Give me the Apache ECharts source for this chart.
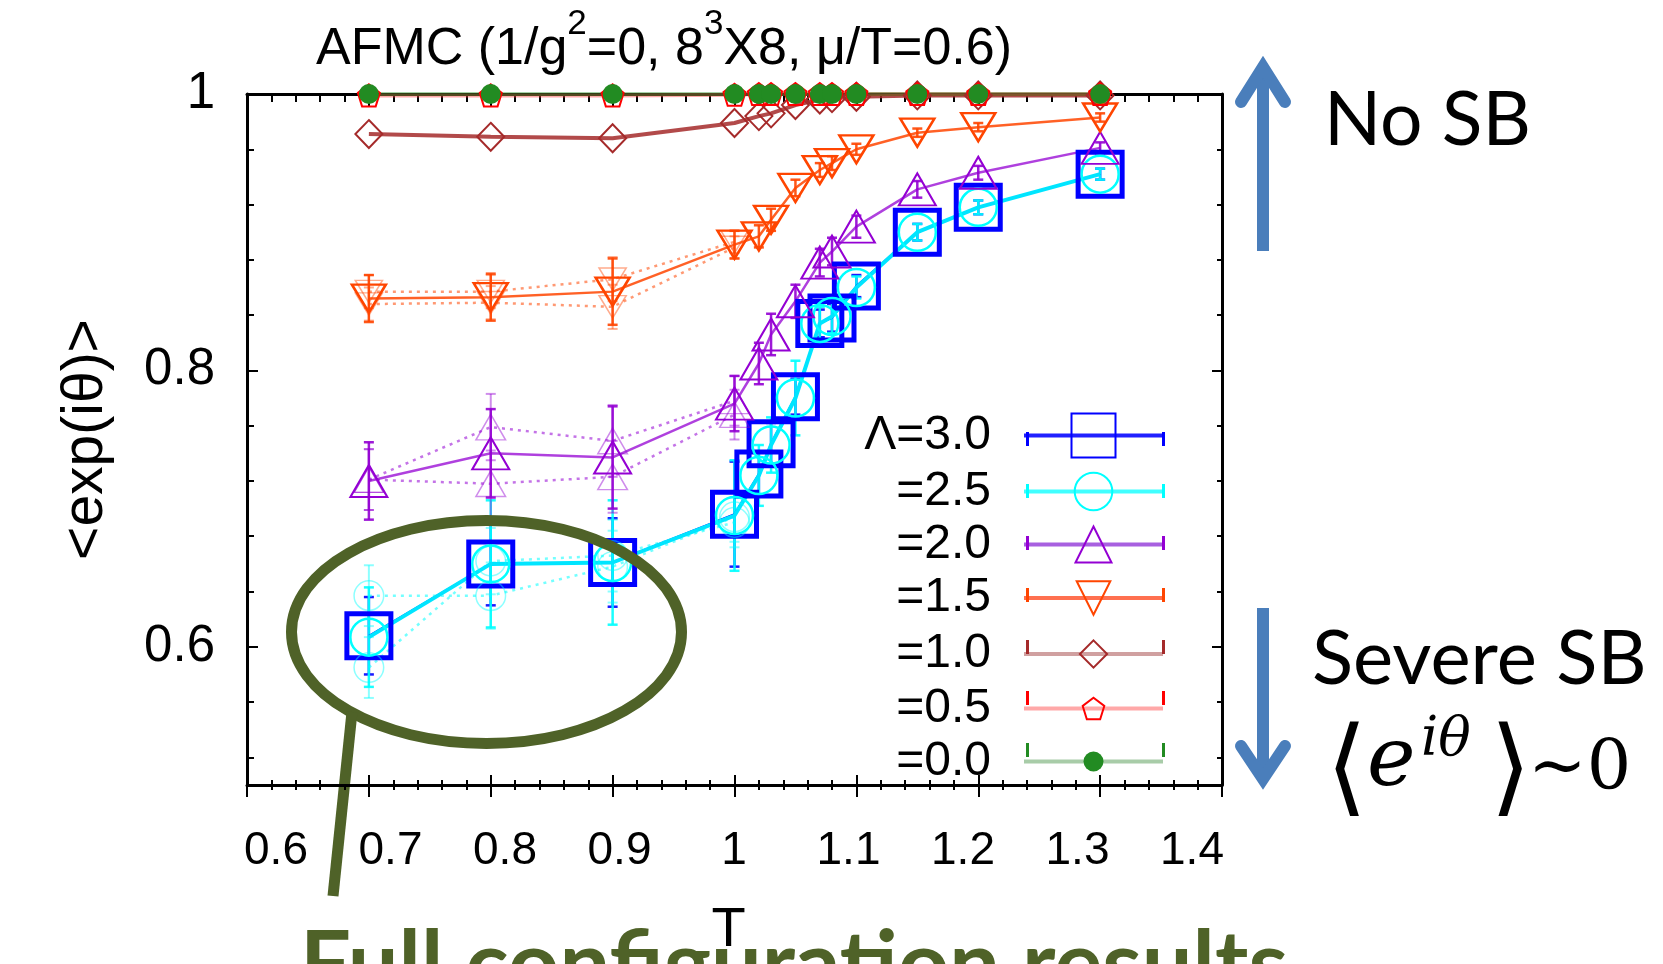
<!DOCTYPE html>
<html><head><meta charset="utf-8">
<script src="https://cdn.jsdelivr.net/npm/echarts@6/dist/echarts.min.js"></script>
<style>html,body{margin:0;padding:0;background:#fff}#c{width:1663px;height:964px}</style>
</head><body><div id="c"></div>
<script>
// ---------------- data ----------------
const temperatures = [0.7, 0.8, 0.9, 1.0, 1.02, 1.03, 1.05, 1.07, 1.08, 1.1, 1.15, 1.2, 1.3];
const seriesNames = ['Λ=3.0', '=2.5', '=2.0', '=1.5', '=1.0', '=0.5', '=0.0'];
const phaseL30 = [0.608, 0.660, 0.661, 0.696, 0.725, 0.747, 0.781, 0.834, 0.838, 0.861, 0.900, 0.918, 0.942];
const errorL30 = [0.028, 0.030, 0.032, 0.038, 0.016, 0.015, 0.013, 0.010, 0.010, 0.008, 0.006, 0.005, 0.004];
const phaseL25 = [0.607, 0.660, 0.661, 0.695, 0.724, 0.746, 0.780, 0.834, 0.839, 0.860, 0.900, 0.918, 0.942];
const errorL25 = [0.036, 0.046, 0.045, 0.040, 0.022, 0.020, 0.027, 0.012, 0.012, 0.008, 0.006, 0.005, 0.004];
const phaseL20 = [0.720, 0.740, 0.737, 0.776, 0.805, 0.826, 0.850, 0.878, 0.886, 0.904, 0.931, 0.943, 0.961];
const errorL20 = [0.028, 0.032, 0.037, 0.020, 0.015, 0.015, 0.012, 0.010, 0.010, 0.008, 0.006, 0.005, 0.004];
const phaseL15 = [0.852, 0.853, 0.857, 0.891, 0.897, 0.909, 0.932, 0.945, 0.950, 0.960, 0.972, 0.976, 0.983];
const errorL15 = [0.017, 0.017, 0.024, 0.010, 0.008, 0.008, 0.006, 0.005, 0.005, 0.004, 0.003, 0.003, 0.003];
const phaseL10 = [0.971, 0.969, 0.968, 0.979, 0.984, 0.986, 0.992, 0.996, 0.997, 0.998, 0.999, 0.999, 0.999];
const phaseL05 = [0.999, 0.999, 0.999, 0.9995, 1, 1, 1, 1, 1, 1, 1, 1, 1];
const phaseL00 = [1, 1, 1, 1, 1, 1, 1, 1, 1, 1, 1, 1, 1];

// alternative (dotted) runs at low temperature
const lowTemperatures = [0.7, 0.8, 0.9, 1.0];
const altL25a = [0.637, 0.637, 0.658, 0.694];
const altL25b = [0.585, 0.662, 0.666, 0.690];
const altL20a = [0.721, 0.759, 0.749, 0.778];
const altL20b = [0.721, 0.718, 0.723, 0.768];
const altL15a = [0.857, 0.857, 0.866, 0.893];
const altL15b = [0.848, 0.849, 0.846, 0.889];
const altError = [0.022, 0.024, 0.026, 0.018];
const altErrorL15 = [0.012, 0.012, 0.016, 0.008];

const xTickLabels = ['0.6', '0.7', '0.8', '0.9', '1', '1.1', '1.2', '1.3', '1.4'];
const yTickLabels = ['0.6', '0.8', '1'];

// ---------------- styles ----------------
const SANS = '"Liberation Sans", Arial, sans-serif';
const HOLLOW = 'rgba(255,255,255,0)';
const DOWN_TRI = 'path://M0,0L10,0L5,8.66Z';
const PENTAGON = 'path://M5,0L10,3.63L8.09,9.51L1.91,9.51L0,3.63Z';

const mainValues = [phaseL30, phaseL25, phaseL20, phaseL15, phaseL10, phaseL05, phaseL00];
const mainErrors = [errorL30, errorL25, errorL20, errorL15, null, null, null];
const styles = [
  {color: '#0000ff', line: '#0000ff', symbol: 'rect', size: 44, bw: 5, fill: HOLLOW, lw: 2, lo: 1, legendH: 55, legendLine: '#2020ff'},
  {color: '#00ffff', line: '#00e5ff', symbol: 'circle', size: 37, bw: 2.5, fill: HOLLOW, lw: 4, lo: 1, legendH: 47, legendLine: '#40ffff'},
  {color: '#9400d3', line: '#9400d3', symbol: 'triangle', size: [37, 32], bw: 2, fill: HOLLOW, lw: 2.5, lo: 0.75, legendH: 45, legendLine: '#a860e0'},
  {color: '#ff4500', line: '#ff4500', symbol: DOWN_TRI, size: [34, 28], bw: 2.5, fill: HOLLOW, lw: 2.5, lo: 0.85, legendH: 42, legendLine: '#ff7050'},
  {color: '#a52a2a', line: '#a52a2a', symbol: 'diamond', size: [27, 28], bw: 2, fill: HOLLOW, lw: 4, lo: 0.85, legendH: 34, legendLine: '#d0a0a0'},
  {color: '#ff0000', line: '#ff4040', symbol: PENTAGON, size: 22, bw: 2, fill: HOLLOW, lw: 4, lo: 0.45, legendH: 27, legendLine: '#ffa8a8'},
  {color: '#228b22', line: '#228b22', symbol: 'circle', size: 20, bw: 0, fill: '#228b22', lw: 4, lo: 0.4, legendH: 25, legendLine: '#a8cca8'}
];
const legendRowCenters = [439, 491, 543, 595, 647, 698, 750];
const legendIconLeft = 1026, legendIconRight = 1165;

function pairs(xs, ys) { return xs.map((x, i) => [x, ys[i]]); }
function triples(xs, ys, es) { return xs.map((x, i) => [x, ys[i], es[i]]); }

function errorSeries(id, xs, ys, es, color, width, opacity) {
  return {
    type: 'custom', name: id, coordinateSystem: 'cartesian2d', silent: true, clip: false,
    data: triples(xs, ys, es), encode: {x: 0, y: 1},
    renderItem: function (params, api) {
      const x = api.value(0), y = api.value(1), e = api.value(2);
      const a = api.coord([x, y + e]), b = api.coord([x, y - e]);
      const c = 5;
      const st = {stroke: color, lineWidth: width, opacity: opacity};
      return {type: 'group', children: [
        {type: 'line', shape: {x1: a[0], y1: a[1], x2: b[0], y2: b[1]}, style: st},
        {type: 'line', shape: {x1: a[0] - c, y1: a[1], x2: a[0] + c, y2: a[1]}, style: st},
        {type: 'line', shape: {x1: b[0] - c, y1: b[1], x2: b[0] + c, y2: b[1]}, style: st}
      ]};
    }
  };
}

function altSeries(id, ys, st, errs) {
  const out = [];
  out.push(errorSeries(id + 'e', lowTemperatures, ys, errs, st.color, 2, 0.45));
  out.push({
    type: 'line', name: id, data: pairs(lowTemperatures, ys), clip: false, silent: true,
    symbol: st.symbol, symbolSize: Array.isArray(st.size) ? st.size.map(v => v * 0.8) : st.size * 0.8,
    itemStyle: {color: st.fill, borderColor: st.color, borderWidth: 1.5, opacity: 0.45},
    lineStyle: {color: st.color, width: 2.5, type: [3, 5], opacity: 0.55},
    emphasis: {disabled: true}
  });
  return out;
}

const series = [];
const alts = {1: [altL25a, altL25b], 2: [altL20a, altL20b], 3: [altL15a, altL15b]};
seriesNames.forEach((name, k) => {
  const st = styles[k];
  if (alts[k]) {
    alts[k].forEach((ys, j) => {
      series.push(...altSeries('alt' + k + '_' + j, ys, st, k === 3 ? altErrorL15 : altError));
    });
  }
  if (mainErrors[k]) series.push(errorSeries('err' + k, temperatures, mainValues[k], mainErrors[k], st.color, 2.5, 0.9));
  series.push({
    type: 'line', name: name, data: pairs(temperatures, mainValues[k]), clip: false,
    symbol: st.symbol, symbolSize: st.size, symbolKeepAspect: false,
    itemStyle: {color: st.fill, borderColor: st.color, borderWidth: st.bw},
    lineStyle: {color: st.line, width: st.lw, opacity: st.lo},
    emphasis: {disabled: true}
  });
});

const legends = seriesNames.map((name, k) => ({
  data: [name], orient: 'vertical', align: 'right', selectedMode: false,
  right: 1663 - legendIconRight, top: legendRowCenters[k] - styles[k].legendH / 2,
  itemWidth: legendIconRight - legendIconLeft, itemHeight: styles[k].legendH, itemGap: 0, padding: 0,
  lineStyle: {color: styles[k].legendLine, width: 4, opacity: 1},
  textStyle: {fontFamily: SANS, fontSize: 48, color: '#000', lineHeight: 20, padding: [0, 28, 0, 0]}
}));

// error-bar caps at the ends of each legend sample line
const legendCaps = [];
legendRowCenters.forEach((cy, k) => {
  [legendIconLeft + 1.5, legendIconRight - 1.5].forEach(x => {
    legendCaps.push({type: 'line', z: 20, shape: {x1: x, y1: cy - 7, x2: x, y2: cy + 7},
      style: {stroke: styles[k].color, lineWidth: 3}});
  });
});

const xRich = {};
xTickLabels.forEach((lab, i) => {
  const shift = 29 - i * 59 / 8;
  xRich['k' + i] = {fontFamily: SANS, fontSize: 46, color: '#000',
    padding: shift >= 0 ? [0, 0, 0, 2 * shift] : [0, -2 * shift, 0, 0]};
});

const baseX = {type: 'value', min: 0.6, max: 1.4, interval: 0.1, gridIndex: 0, splitLine: {show: false}};
const baseY = {type: 'value', min: 0.5, max: 1.0, minInterval: 0.2, maxInterval: 0.2, gridIndex: 0, splitLine: {show: false}};
const axisBlack = {color: '#000', width: 2};

const option = {
  animation: false,
  backgroundColor: '#fff',
  title: {
    text: 'AFMC (1/g{s|2}=0, 8{s|3}X8, μ/T=0.6)',
    left: 316, top: 7, padding: 0,
    textStyle: {fontFamily: SANS, fontSize: 52, fontWeight: 'normal', color: '#000', lineHeight: 86,
      rich: {s: {fontFamily: SANS, fontSize: 35, color: '#000', verticalAlign: 'top', lineHeight: 35}}}
  },
  grid: {left: 247, right: 441, top: 94, bottom: 178},
  xAxis: [
    Object.assign({}, baseX, {
      position: 'bottom', axisLine: {onZero: false, lineStyle: {color: '#000', width: 3}},
      axisTick: {inside: false, length: 12, lineStyle: axisBlack},
      minorTick: {show: true, splitNumber: 5, length: 5, lineStyle: axisBlack},
      axisLabel: {margin: 43, formatter: v => { const i = Math.round((v - 0.6) / 0.1); return '{k' + i + '|' + xTickLabels[i] + '}'; }, rich: xRich},
      name: 'T', nameLocation: 'middle', nameGap: 118,
      nameTextStyle: {fontFamily: SANS, fontSize: 56, color: '#000', padding: [0, 12, 0, 0]}, z: 60
    }),
    Object.assign({}, baseX, {
      position: 'bottom', axisLine: {show: false, onZero: false},
      axisTick: {inside: true, length: 10, lineStyle: axisBlack},
      minorTick: {show: true, splitNumber: 5, length: 5, lineStyle: axisBlack},
      axisLabel: {show: false}
    }),
    Object.assign({}, baseX, {
      position: 'top', axisLine: {onZero: false, lineStyle: {color: '#000', width: 3}},
      axisTick: {inside: true, length: 12, lineStyle: axisBlack},
      minorTick: {show: true, splitNumber: 5, length: 8, lineStyle: axisBlack},
      axisLabel: {show: false}
    })
  ],
  yAxis: [
    Object.assign({}, baseY, {
      position: 'left', axisLine: {onZero: false, lineStyle: {color: '#000', width: 3}},
      axisTick: {inside: true, length: 11, lineStyle: axisBlack},
      minorTick: {show: true, splitNumber: 5, length: 7, lineStyle: axisBlack},
      axisLabel: {margin: 32, fontFamily: SANS, fontSize: 51, color: '#000',
        formatter: v => { const s = String(Math.round(v * 10) / 10); return yTickLabels.indexOf(s) >= 0 ? s : ''; }},
      name: '<exp(iθ)>', nameLocation: 'middle', nameRotate: 90, nameGap: 132,
      nameTextStyle: {fontFamily: SANS, fontSize: 57, color: '#000'}
    }),
    Object.assign({}, baseY, {
      position: 'right', axisLine: {onZero: false, lineStyle: {color: '#000', width: 3}},
      axisTick: {inside: true, length: 10, lineStyle: axisBlack},
      minorTick: {show: true, splitNumber: 5, length: 5, lineStyle: axisBlack},
      axisLabel: {show: false}
    })
  ],
  legend: legends,
  series: series,
  graphic: legendCaps.concat([
    {type: 'ellipse', z: 50, shape: {cx: 486.5, cy: 632, rx: 195, ry: 111.5},
      style: {fill: 'none', stroke: '#4f6228', lineWidth: 11}},
    {type: 'line', z: 50, shape: {x1: 352, y1: 712, x2: 333, y2: 896},
      style: {stroke: '#4f6228', lineWidth: 11}},
    {type: 'text', z: 40, style: {text: 'Full configuration results', x: 300, y: 966,
      font: 'bold 90px Lato', fill: '#4f6228', textVerticalAlign: 'middle', verticalAlign: 'middle'}},
    // up arrow
    {type: 'polyline', z: 50, shape: {points: [[1263, 251], [1263, 72]]},
      style: {fill: 'none', stroke: '#4a7ebb', lineWidth: 12}},
    {type: 'polyline', z: 50, shape: {points: [[1241, 102], [1263, 67], [1285, 102]]},
      style: {fill: 'none', stroke: '#4a7ebb', lineWidth: 12, lineCap: 'round', lineJoin: 'miter'}},
    // down arrow
    {type: 'polyline', z: 50, shape: {points: [[1263, 608], [1263, 775]]},
      style: {fill: 'none', stroke: '#4a7ebb', lineWidth: 12}},
    {type: 'polyline', z: 50, shape: {points: [[1241, 746], [1263, 779], [1285, 746]]},
      style: {fill: 'none', stroke: '#4a7ebb', lineWidth: 12, lineCap: 'round', lineJoin: 'miter'}},
    {type: 'text', z: 50, style: {text: 'No SB', x: 1324, y: 121, font: '75px Lato', fill: '#000',
      textVerticalAlign: 'middle', verticalAlign: 'middle'}},
    {type: 'text', z: 50, style: {text: 'Severe SB', x: 1312, y: 659, font: '76px Lato', fill: '#000',
      textVerticalAlign: 'middle', verticalAlign: 'middle'}},
    {type: 'text', z: 50, style: {text: '⟨', x: 1326, y: 774, font: '106px "DejaVu Serif"', fill: '#000',
      textVerticalAlign: 'middle', verticalAlign: 'middle'}},
    {type: 'text', z: 50, style: {text: 'e', x: 1367, y: 764, font: 'italic 82px "DejaVu Serif"', fill: '#000',
      textVerticalAlign: 'middle', verticalAlign: 'middle'}},
    {type: 'text', z: 50, style: {text: 'iθ', x: 1421, y: 741, font: 'italic 54px "DejaVu Serif"', fill: '#000',
      textVerticalAlign: 'middle', verticalAlign: 'middle'}},
    {type: 'text', z: 50, style: {text: '⟩', x: 1490, y: 774, font: '106px "DejaVu Serif"', fill: '#000',
      textVerticalAlign: 'middle', verticalAlign: 'middle'}},
    {type: 'text', z: 50, style: {text: '~0', x: 1528, y: 771, font: '70px "DejaVu Serif"', fill: '#000',
      textVerticalAlign: 'middle', verticalAlign: 'middle'}}
  ])
};

const chart = echarts.init(document.getElementById('c'), null, {renderer: 'canvas'});
chart.setOption(option);
</script>
</body></html>
